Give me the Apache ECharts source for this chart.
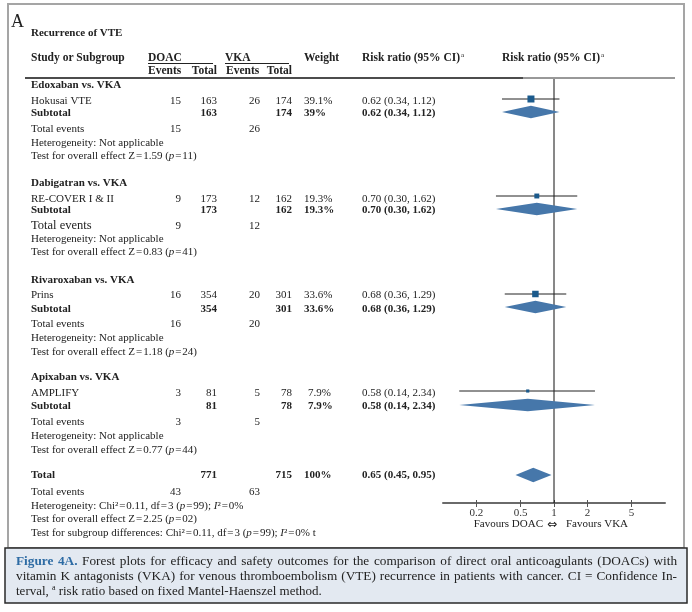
<!DOCTYPE html>
<html><head><meta charset="utf-8">
<script src="https://cdn.jsdelivr.net/npm/echarts@6/dist/echarts.min.js"></script>
<style>html,body{margin:0;padding:0;background:#fff}#c{width:692px;height:612px}</style>
</head><body><div id="c"></div>
<script>
// ---------------- DATA ----------------
const groupNames = ['Edoxaban vs. VKA', 'Dabigatran vs. VKA', 'Rivaroxaban vs. VKA', 'Apixaban vs. VKA'];
const studyNames = ['Hokusai VTE', 'RE-COVER I & II', 'Prins', 'AMPLIFY'];
const doacEvents = [15, 9, 16, 3];
const doacTotal = [163, 173, 354, 81];
const vkaEvents = [26, 12, 20, 5];
const vkaTotal = [174, 162, 301, 78];
const weights = [39.1, 19.3, 33.6, 7.9];
const subtotalWeightLabels = ['39%', '19.3%', '33.6%', '7.9%'];
const riskRatio = [0.62, 0.70, 0.68, 0.58];
const ciLow = [0.34, 0.30, 0.36, 0.14];
const ciHigh = [1.12, 1.62, 1.29, 2.34];
const zStat = ['1.59', '0.83', '1.18', '0.77'];
const pStat = ['11', '41', '24', '44'];
const overallRR = [0.65, 0.45, 0.95];
const overallTotals = [771, 715];
const overallEvents = [43, 63];
const overallWeightLabel = '100%';
const overallHet = ['0.11', '3', '99', '0%'];
const overallZ = ['2.25', '02'];
const tickValues = [0.2, 0.5, 1, 2, 5];

// ---------------- LAYOUT ----------------
const FONT = '"Liberation Serif", "Times New Roman", serif';
const COL = { name: 31, dEv: 181, dTot: 217, vEv: 260, vTot: 292, weight: 304, rr: 362 };
// rows per group: header, study, subtotal, total events, heterogeneity, test
const groupRowY = [[85, 101, 113, 129, 143, 156], [183, 199, 210, 226, 239, 252], [280, 295, 309, 324, 338, 352], [377, 393, 406, 422, 436, 450]];
const squareY = [99, 196, 294, 391];
const diamondY = [112, 209, 307, 405];
const totalRowY = [475, 492, 506, 519, 533];
const totalDiamondY = 475;
const totalEventsSize = [11, 12.5, 11, 11];

const measureCtx = document.createElement('canvas').getContext('2d');
function textWidth(t, size, bold) {
  measureCtx.font = (bold ? 'bold ' : '') + size + 'px ' + FONT;
  return measureCtx.measureText(t).width;
}

const italicRich = { i: { fontStyle: 'italic', fontSize: 11, fontFamily: FONT, fill: '#222' } };
function T(x, y, text, opt) {
  opt = opt || {};
  return {
    type: 'text', x: x, y: y, silent: true,
    style: {
      text: text, fontSize: opt.size || 11, fontFamily: opt.family || FONT,
      fontWeight: opt.bold ? 'bold' : 'normal', fontStyle: opt.italic ? 'italic' : 'normal',
      fill: opt.color || '#222', textAlign: opt.align || 'left', textVerticalAlign: 'middle',
      rich: opt.rich
    }
  };
}
function L(x1, y1, x2, y2, w, c) {
  return { type: 'line', silent: true, shape: { x1: x1, y1: y1, x2: x2, y2: y2 }, style: { stroke: c || '#222', lineWidth: w || 1 } };
}
const fmt = v => v.toFixed(2);
const ciText = (r, lo, hi) => fmt(r) + ' (' + fmt(lo) + ', ' + fmt(hi) + ')';

const g = [];
// frame & caption box
g.push({ type: 'rect', silent: true, shape: { x: 8, y: 4, width: 676, height: 544 }, style: { fill: 'none', stroke: '#a5a5a5', lineWidth: 2 } });
g.push({ type: 'rect', silent: true, shape: { x: 5, y: 548, width: 682, height: 55 }, style: { fill: '#e3e9f1', stroke: '#2a2a2a', lineWidth: 1.5 } });

// titles
g.push(T(11, 22, 'A', { size: 18 }));
g.push(T(COL.name, 33, 'Recurrence of VTE', { bold: true }));
// header
g.push(T(COL.name, 58, 'Study or Subgroup', { bold: true, size: 11.5 }));
g.push(T(148, 58, 'DOAC', { bold: true, size: 11.5 }));
g.push(T(225, 58, 'VKA', { bold: true, size: 11.5 }));
g.push(L(148, 63.5, 213, 63.5, 1, '#222'));
g.push(L(225, 63.5, 289, 63.5, 1, '#222'));
g.push(T(148, 71, 'Events', { bold: true, size: 11.5 }));
g.push(T(COL.dTot, 71, 'Total', { bold: true, size: 11.5, align: 'right' }));
g.push(T(226, 71, 'Events', { bold: true, size: 11.5 }));
g.push(T(COL.vTot, 71, 'Total', { bold: true, size: 11.5, align: 'right' }));
g.push(T(COL.weight, 58, 'Weight', { bold: true, size: 11.5 }));
const rrHead = 'Risk ratio (95% CI)';
[COL.rr, 502].forEach(x => {
  g.push(T(x, 58, rrHead, { bold: true, size: 11.5 }));
  g.push(T(x + textWidth(rrHead, 11.5, true) + 1, 55, 'a', { size: 7 }));
});
g.push(L(25, 78, 523, 78, 1.5, '#111'));
g.push(L(523, 78, 675, 78, 1, '#333'));

// groups
groupNames.forEach((name, i) => {
  const r = groupRowY[i];
  g.push(T(COL.name, r[0], name, { bold: true }));
  g.push(T(COL.name, r[1], studyNames[i]));
  g.push(T(COL.dEv, r[1], String(doacEvents[i]), { align: 'right' }));
  g.push(T(COL.dTot, r[1], String(doacTotal[i]), { align: 'right' }));
  g.push(T(COL.vEv, r[1], String(vkaEvents[i]), { align: 'right' }));
  g.push(T(COL.vTot, r[1], String(vkaTotal[i]), { align: 'right' }));
  g.push(T(i === 3 ? 308 : COL.weight, r[1], weights[i] + '%'));
  g.push(T(COL.rr, r[1], ciText(riskRatio[i], ciLow[i], ciHigh[i])));
  g.push(T(COL.name, r[2], 'Subtotal', { bold: true }));
  g.push(T(COL.dTot, r[2], String(doacTotal[i]), { align: 'right', bold: true }));
  g.push(T(COL.vTot, r[2], String(vkaTotal[i]), { align: 'right', bold: true }));
  g.push(T(i === 3 ? 308 : COL.weight, r[2], subtotalWeightLabels[i], { bold: true }));
  g.push(T(COL.rr, r[2], ciText(riskRatio[i], ciLow[i], ciHigh[i]), { bold: true }));
  g.push(T(COL.name, r[3], 'Total events', { size: totalEventsSize[i] }));
  g.push(T(COL.dEv, r[3], String(doacEvents[i]), { align: 'right' }));
  g.push(T(COL.vEv, r[3], String(vkaEvents[i]), { align: 'right' }));
  g.push(T(COL.name, r[4], 'Heterogeneity: Not applicable'));
  g.push(T(COL.name, r[5], 'Test for overall effect Z\u200a=\u200a' + zStat[i] + ' ({i|p}\u200a=\u200a' + pStat[i] + ')', { rich: italicRich }));
});
// overall
g.push(T(COL.name, totalRowY[0], 'Total', { bold: true }));
g.push(T(COL.dTot, totalRowY[0], String(overallTotals[0]), { align: 'right', bold: true }));
g.push(T(COL.vTot, totalRowY[0], String(overallTotals[1]), { align: 'right', bold: true }));
g.push(T(COL.weight, totalRowY[0], overallWeightLabel, { bold: true }));
g.push(T(COL.rr, totalRowY[0], ciText(overallRR[0], overallRR[1], overallRR[2]), { bold: true }));
g.push(T(COL.name, totalRowY[1], 'Total events'));
g.push(T(COL.dEv, totalRowY[1], String(overallEvents[0]), { align: 'right' }));
g.push(T(COL.vEv, totalRowY[1], String(overallEvents[1]), { align: 'right' }));
g.push(T(COL.name, totalRowY[2], 'Heterogeneity: Chi\u00b2\u200a=\u200a' + overallHet[0] + ', df\u200a=\u200a' + overallHet[1] + ' ({i|p}\u200a=\u200a' + overallHet[2] + '); {i|I}\u00b2\u200a=\u200a' + overallHet[3], { rich: italicRich }));
g.push(T(COL.name, totalRowY[3], 'Test for overall effect Z\u200a=\u200a' + overallZ[0] + ' ({i|p}\u200a=\u200a' + overallZ[1] + ')', { rich: italicRich }));
g.push(T(COL.name, totalRowY[4], 'Test for subgroup differences: Chi\u00b2\u200a=\u200a' + overallHet[0] + ', df\u200a=\u200a' + overallHet[1] + ' ({i|p}\u200a=\u200a' + overallHet[2] + '); {i|I}\u00b2\u200a=\u200a' + overallHet[3] + ' t', { rich: italicRich }));

// favours labels
g.push(T(543, 524, 'Favours DOAC', { align: 'right' }));
g.push(T(552, 525, '\u21d4', { align: 'center', size: 12, family: '"DejaVu Sans", sans-serif' }));
g.push(T(566, 524, 'Favours VKA'));

// caption
const capBlue = '#2d6ba4';
const capLines = [
  { lead: 'Figure 4A.', text: 'Forest plots for efficacy and safety outcomes for the comparison of direct oral anticoagulants (DOACs) with', y: 562 },
  { lead: '', text: 'vitamin K antagonists (VKA) for venous thromboembolism (VTE) recurrence in patients with cancer. CI = Confidence In-', y: 577 }
];
const capX0 = 16, capX1 = 677;
capLines.forEach(line => {
  let size = 13.25;
  const build = s => {
    const toks = [];
    if (line.lead) line.lead.split(' ').forEach(w => toks.push({ t: w, bold: true, c: capBlue }));
    line.text.split(' ').forEach(w => toks.push({ t: w, bold: false, c: '#222' }));
    toks.forEach(k => k.w = textWidth(k.t, s, k.bold));
    return toks;
  };
  let toks = build(size);
  const sp = s => textWidth(' ', s, false) * 0.7;
  while (toks.reduce((a, k) => a + k.w, 0) + (toks.length - 1) * sp(size) > capX1 - capX0 && size > 10) {
    size -= 0.25; toks = build(size);
  }
  const sum = toks.reduce((a, k) => a + k.w, 0);
  const gap = (capX1 - capX0 - sum) / (toks.length - 1);
  let x = capX0;
  toks.forEach(k => { g.push(T(x, line.y, k.t, { size: size, bold: k.bold, color: k.c })); x += k.w + gap; });
});
(function () {
  const s = 13, y = 592;
  let x = capX0;
  const w1 = 'terval,';
  g.push(T(x, y, w1, { size: s })); x += textWidth(w1 + ' ', s, false);
  g.push(T(x, y - 4, 'a', { size: 8 })); x += textWidth('a ', 8, false) + 1;
  g.push(T(x, y, 'risk ratio based on fixed Mantel-Haenszel method.', { size: s }));
})();

// ---------------- CHART ----------------
const chart = echarts.init(document.getElementById('c'), null, { renderer: 'canvas' });
const axisBase = { type: 'log', logBase: 10, min: 0.1, max: 10, position: 'bottom', splitLine: { show: false }, minorTick: { show: false } };
const diamondColor = '#4677aa';
const squareColor = '#1b5a8c';
const ciData = studyNames.map((s, i) => [riskRatio[i], ciLow[i], ciHigh[i], squareY[i]]);
const diamondData = studyNames.map((s, i) => [riskRatio[i], ciLow[i], ciHigh[i], diamondY[i], 6.2])
  .concat([[overallRR[0], overallRR[1], overallRR[2], totalDiamondY, 7.3]]);
const squareData = studyNames.map((s, i) => [riskRatio[i], squareY[i], weights[i]]);

chart.setOption({
  animation: false,
  graphic: { elements: g },
  grid: { left: 443, top: 79, width: 222, height: 424 },
  xAxis: [
    Object.assign({}, axisBase, {
      axisLine: { show: true, lineStyle: { color: '#6a6a6a', width: 2 } },
      axisTick: { show: true, customValues: tickValues, length: 4, lineStyle: { color: '#555', width: 1 } },
      axisLabel: { show: true, customValues: tickValues, formatter: v => String(parseFloat((+v).toPrecision(3))), fontFamily: FONT, fontSize: 11, color: '#333', margin: 5 }
    }),
    Object.assign({}, axisBase, {
      axisLine: { show: false },
      axisTick: { show: true, inside: true, customValues: tickValues, length: 3, lineStyle: { color: '#555', width: 1 } },
      axisLabel: { show: false }
    })
  ],
  yAxis: { type: 'value', min: 79, max: 503, inverse: true, show: false },
  series: [
    { type: 'line', silent: true, symbol: 'none', data: [[1, 79], [1, 503]], lineStyle: { color: '#111', width: 1 }, z: 1 },
    {
      type: 'custom', silent: true, data: ciData, encode: { x: [0, 1, 2], y: 3 }, z: 2,
      renderItem: (params, api) => {
        const a = api.coord([api.value(1), api.value(3)]);
        const b = api.coord([api.value(2), api.value(3)]);
        return { type: 'line', shape: { x1: a[0], y1: a[1], x2: b[0], y2: b[1] }, style: { stroke: '#222', lineWidth: 1 } };
      }
    },
    {
      type: 'scatter', silent: true, data: squareData, symbol: 'rect', z: 3,
      symbolSize: v => 1.12 * Math.sqrt(v[2]), itemStyle: { color: squareColor, opacity: 1 }
    },
    {
      type: 'custom', silent: true, data: diamondData, encode: { x: [0, 1, 2], y: 3 }, z: 3,
      renderItem: (params, api) => {
        const y = api.value(3), h = api.value(4);
        const c = api.coord([api.value(0), y]);
        const a = api.coord([api.value(1), y]);
        const b = api.coord([api.value(2), y]);
        return { type: 'polygon', shape: { points: [[a[0], c[1]], [c[0], c[1] - h], [b[0], c[1]], [c[0], c[1] + h]] }, style: { fill: diamondColor } };
      }
    }
  ]
});
</script>
</body></html>
